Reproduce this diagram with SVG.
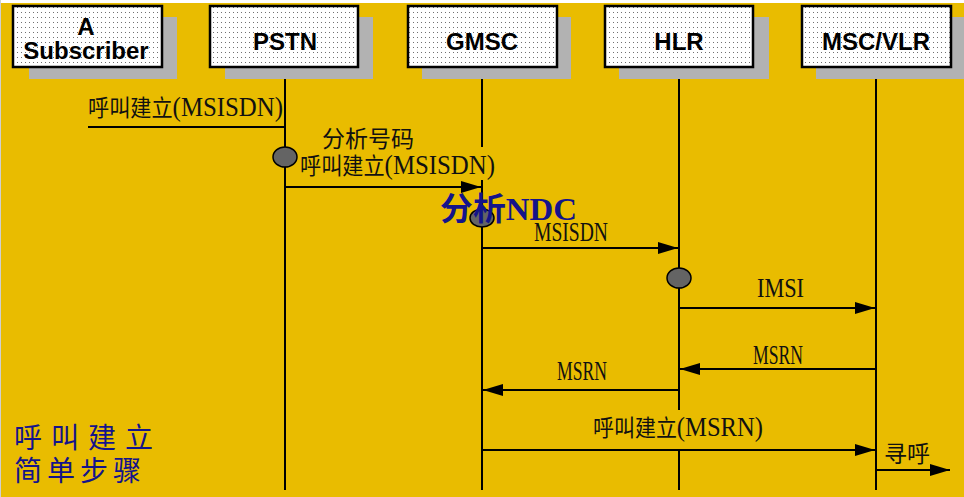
<svg xmlns="http://www.w3.org/2000/svg" width="964" height="497" viewBox="0 0 964 497">
<defs>
<pattern id="dots" x="0" y="0" width="4" height="5" patternUnits="userSpaceOnUse">
<rect width="4" height="5" fill="#ffffff"/>
<rect x="1" y="2" width="1" height="1" fill="#707070"/>
</pattern>
<marker id="ah" markerWidth="20" markerHeight="12" refX="20" refY="6" orient="auto" markerUnits="userSpaceOnUse">
<path d="M0,0 L20,6 L0,12 Z" fill="#000"/>
</marker>
<style>
.shadow{fill:#b2b2b2}
.box{fill:url(#dots);stroke:#000;stroke-width:2.5}
.hdr{font-family:"Liberation Sans",Arial,sans-serif;font-weight:bold;font-size:24px;fill:#000;text-anchor:middle}
.life{stroke:#000;stroke-width:2;fill:none}
.msg{stroke:#000;stroke-width:2;fill:none}
.arr{marker-end:url(#ah)}
.lbl{font-family:"Liberation Serif","Noto Sans CJK SC",serif;font-size:23px;fill:#111}
.lat{font-size:27px}
.blue{font-family:"Liberation Serif","Noto Sans CJK SC",serif;font-weight:bold;fill:#14148a}
.dot{fill:#646464;stroke:#000;stroke-width:1.5}
.ttl{font-family:"Noto Sans CJK SC",sans-serif;font-size:28px;fill:#14148a}
</style>
</defs>
<rect x="0" y="0" width="964" height="497" fill="#E9BC00"/>
<rect x="0" y="0" width="964" height="3" fill="#ffffff"/>
<rect x="0" y="0" width="1" height="497" fill="#d0d0d0"/>

<g id="node-a-subscriber">
<rect class="shadow" x="29" y="17" width="148" height="62"/>
<rect class="box" x="13" y="6" width="149" height="61"/>
<text class="hdr" x="86" y="35">A</text>
<text class="hdr" x="86" y="59">Subscriber</text>
</g>
<g id="node-pstn">
<rect class="shadow" x="225" y="17" width="148" height="62"/>
<rect class="box" x="210" y="6" width="148" height="61"/>
<text class="hdr" x="285" y="50">PSTN</text>
</g>
<g id="node-gmsc">
<rect class="shadow" x="422" y="17" width="149" height="62"/>
<rect class="box" x="408" y="6" width="149" height="61"/>
<text class="hdr" x="482" y="50">GMSC</text>
</g>
<g id="node-hlr">
<rect class="shadow" x="619" y="17" width="150" height="62"/>
<rect class="box" x="605" y="6" width="148" height="61"/>
<text class="hdr" x="679" y="50">HLR</text>
</g>
<g id="node-msc-vlr">
<rect class="shadow" x="816" y="17" width="148" height="62"/>
<rect class="box" x="802" y="6" width="149" height="61"/>
<text class="hdr" x="876" y="50">MSC/VLR</text>
</g>

<g id="lifelines">
<path class="life" d="M285,79 V490"/>
<path class="life" d="M482,79 V147 M482,180 V490"/>
<path class="life" d="M679,79 V410 M679,451 V490"/>
<path class="life" d="M876,79 V490"/>
</g>

<g id="connectors">
<path class="msg" d="M88,127 H285"/>
<path class="msg arr" d="M285,187 H481"/>
<path class="msg arr" d="M482,248 H678"/>
<path class="msg arr" d="M679,308 H875"/>
<path class="msg arr" d="M876,369 H680"/>
<path class="msg arr" d="M679,390 H483"/>
<path class="msg arr" d="M482,450 H875"/>
<path class="msg arr" d="M876,470 H950"/>
</g>

<g id="activations">
<ellipse class="dot" cx="285" cy="157" rx="12" ry="10"/>
<ellipse class="dot" cx="482" cy="218" rx="12" ry="9"/>
<ellipse class="dot" cx="679" cy="278" rx="12" ry="10"/>
</g>

<g id="labels">
<text class="lbl" x="88" y="116" textLength="195" lengthAdjust="spacingAndGlyphs">呼叫建立<tspan class="lat">(MSISDN)</tspan></text>
<text class="lbl" x="322" y="147" font-size="24">分析号码</text>
<text class="lbl" x="300" y="174" textLength="195" lengthAdjust="spacingAndGlyphs">呼叫建立<tspan class="lat">(MSISDN)</tspan></text>
<text class="blue" x="440" y="220" font-size="32" textLength="137" lengthAdjust="spacingAndGlyphs">分析NDC</text>
<text class="lbl lat" x="534" y="241" textLength="74" lengthAdjust="spacingAndGlyphs">MSISDN</text>
<text class="lbl lat" x="757" y="297" textLength="47" lengthAdjust="spacingAndGlyphs">IMSI</text>
<text class="lbl lat" x="753" y="364" textLength="50" lengthAdjust="spacingAndGlyphs">MSRN</text>
<text class="lbl lat" x="557" y="380" textLength="50" lengthAdjust="spacingAndGlyphs">MSRN</text>
<text class="lbl" x="593" y="436" textLength="170" lengthAdjust="spacingAndGlyphs">呼叫建立<tspan class="lat">(MSRN)</tspan></text>
<text class="lbl" x="884" y="462" font-size="24">寻呼</text>
</g>

<g id="title">
<text class="ttl" x="14" y="448" letter-spacing="9">呼叫建立</text>
<text class="ttl" x="14" y="481" letter-spacing="5">简单步骤</text>
</g>
</svg>
